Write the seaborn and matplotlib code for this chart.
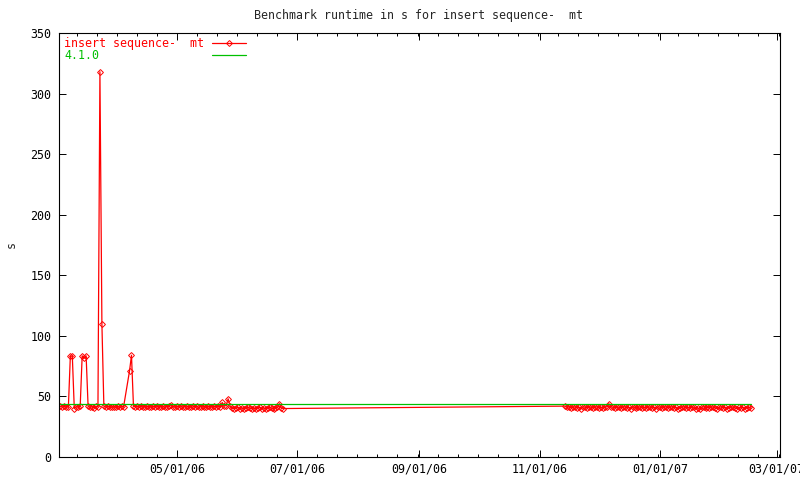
"""
Benchmark runtime chart (gnuplot look) redone with seaborn
"""

import pandas as pd
import numpy as np
import matplotlib
matplotlib.use('Agg')
import matplotlib.pyplot as plt
import matplotlib.dates as mdates
from matplotlib.ticker import AutoMinorLocator, MultipleLocator
from matplotlib.lines import Line2D
import seaborn as sns

# ---- data ----
title = 'Benchmark runtime in s for insert sequence-  mt'
series_labels = ['insert sequence-  mt', '4.1.0']
series_colors = ['red', '#00c000']

# first run of daily results, starting 2006-03-03 (None = no result that day)
run1_start = '2006-03-03'
run1_vals = [
    42.0, 41.0, 42.5, 41.5, 41.0, 83.0, 83.5, 40.0, 41.5, 41.0,
    42.0, 83.5, 81.5, 83.5, 42.0, 41.0, 41.5, 40.5, 41.8, 41.5,
    318.0, 110.0, 42.0, 41.0, 42.0, 41.5, 41.0, 41.5, 41.0, 41.8,
    41.0, 42.0, 41.5, None, None, 71.0, 84.0, 42.0,
    41.5, 42.0, 41.0, 42.5, 41.5, 41.0, 42.0, 41.5, 41.0, 42.0,
    41.5, 42.5, 41.0, 41.5, 42.0, 41.0, 41.5, 42.0, 43.0, 41.5,
    41.0, 42.0, 41.5, 42.5, 41.0, 41.5, 42.0, 41.5, 41.0, 42.5,
    41.5, 42.0, 41.0, 41.5, 42.5, 41.5, 41.0, 42.0, 41.5, 41.0,
    42.0, 41.5, 42.5, 41.0,
    45.0, 42.0, 42.5, 48.0, 42.0,
    40.5, 40.0, 40.5, 41.0, 40.0, 40.5, 40.0, 40.5, 41.0, 40.5,
    40.0, 40.5, 40.0, 40.5, 41.0, 40.0, 40.5, 40.0, 40.5, 41.0,
    40.5, 40.0, 40.5, 41.0,
    44.0, 40.5, 40.0,
]

# second run of daily results, starting 2006-11-14
run2_start = '2006-11-14'
run2_vals = [
    42.0, 41.0, 41.5, 40.5, 41.0, 41.5, 40.5, 41.0, 40.0, 41.5,
    41.0, 40.5, 41.5, 41.0, 40.5, 41.0, 41.5, 40.5, 41.0, 40.5,
    41.0, 41.5, 44.0, 41.5, 41.0, 40.5, 41.5, 41.0, 40.5, 41.0,
    41.5, 40.5, 41.0, 40.0, 41.5, 41.0, 40.5, 41.0, 41.5, 40.5,
    41.0, 40.5, 41.5, 41.0, 40.5, 41.0, 40.0, 41.5, 41.0, 40.5,
    41.0, 41.5, 40.5, 41.0, 41.5, 40.5, 41.0, 39.5, 40.5, 41.0,
    41.5, 40.5, 41.0, 40.5, 41.5, 41.0, 40.0, 40.5, 39.5, 41.0,
    41.5, 40.5, 41.0, 40.5, 41.5, 41.0, 40.5, 40.0, 41.0, 41.5,
    40.5, 41.0, 40.0, 40.5, 41.5, 41.0, 40.5, 40.0, 41.0, 40.5,
    41.0, 40.0, 40.5, 41.0, 40.5,
]

# reference version 4.1.0
ref_dates = ['2006-03-03', '2007-02-16']
ref_vals = [43.5, 43.5]

x_range = ('2006-03-02', '2007-03-02 12:00')
y_ticks = [0, 50, 100, 150, 200, 250, 300, 350]

# ---- frames ----
run1 = pd.DataFrame({'date': pd.date_range(run1_start, periods=len(run1_vals), freq='D'),
                     'runtime': pd.to_numeric(pd.Series(run1_vals), errors='coerce')})
run2 = pd.DataFrame({'date': pd.date_range(run2_start, periods=len(run2_vals), freq='D'),
                     'runtime': run2_vals})
red_df = pd.concat([run1, run2]).dropna().reset_index(drop=True)
ref_df = pd.DataFrame({'date': pd.to_datetime(ref_dates), 'runtime': ref_vals})

# ---- style ----
sns.set_style('ticks')
plt.rcParams['font.family'] = ['DejaVu Sans Mono']
plt.rcParams['font.size'] = 8.4
plt.rcParams['axes.linewidth'] = 0.8

fig = plt.figure(figsize=(8, 4.8), dpi=100)
ax = fig.add_axes([58.5 / 800, 23 / 480, 721 / 800, 424 / 480])

red_style = dict(color=series_colors[0], lw=0.9, marker='D', markersize=3,
                 markerfacecolor='none', markeredgecolor=series_colors[0], markeredgewidth=0.7)
sns.lineplot(data=red_df, x='date', y='runtime', ax=ax, estimator=None, **red_style)
sns.lineplot(data=ref_df, x='date', y='runtime', ax=ax, estimator=None,
             color=series_colors[1], lw=0.9)

ax.set_xlim(pd.to_datetime(x_range[0]), pd.to_datetime(x_range[1]))
ax.set_ylim(y_ticks[0], y_ticks[-1])
ax.set_yticks(y_ticks)

ax.xaxis.set_major_locator(mdates.MonthLocator(bymonth=[1, 3, 5, 7, 9, 11]))
ax.xaxis.set_major_formatter(mdates.DateFormatter('%m/%d/%y'))
ax.xaxis.set_minor_locator(AutoMinorLocator(6))

ax.tick_params(which='both', direction='in', top=True, right=True, colors='black', width=0.7)
ax.tick_params(which='major', length=5)
ax.tick_params(which='minor', length=2.5)
ax.tick_params(axis='x', pad=4)
ax.tick_params(axis='y', pad=5)
for s in ax.spines.values():
    s.set_visible(True)
    s.set_color('black')

ax.set_title(title, pad=10, fontsize=8.4)
ax.set_xlabel('')
ax.set_ylabel('s', labelpad=9)

# gnuplot style key: text on the left, samples in a column on the right
text_handles = [Line2D([], [], linestyle='none') for _ in series_labels]
leg1 = ax.legend(text_handles, series_labels, loc='upper left', bbox_to_anchor=(0.002, 1.0),
                 handlelength=0, handletextpad=0, frameon=False, labelcolor=series_colors,
                 borderaxespad=0, borderpad=0.35, labelspacing=-0.1)
ax.add_artist(leg1)
sample_handles = [Line2D([], [], **red_style),
                  Line2D([], [], color=series_colors[1], lw=0.9)]
ax.legend(sample_handles, ['', ''], loc='upper left', bbox_to_anchor=(0.207, 1.0),
          handlelength=2.9, handletextpad=0, frameon=False,
          borderaxespad=0, borderpad=0.35, labelspacing=-0.1)

plt.savefig('out.png', dpi=100)
plt.close()
print('saved out.png')
